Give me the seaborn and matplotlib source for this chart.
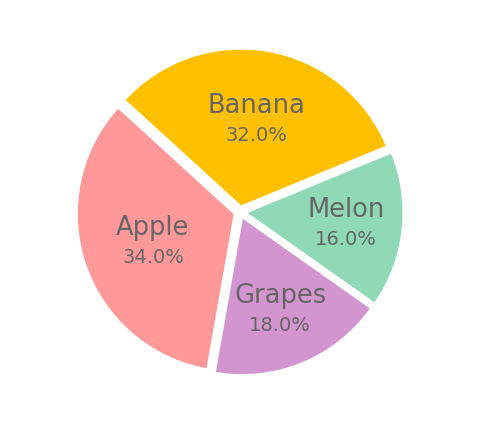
import numpy as np
import seaborn as sns
import matplotlib.pyplot as plt
from matplotlib.transforms import ScaledTranslation

labels = ["Apple", "Banana", "Melon", "Grapes"]
ratio = [34, 32, 16, 18]
colors = ["#ff9999", "#ffc000", "#8fd9b6", "#d395d0"]
explode = [0.035, 0.035, 0.035, 0.035]

sns.set_theme(style="white")
plt.rcParams["font.family"] = ["DejaVu Sans"]

fig = plt.figure(figsize=(4.82, 4.24), dpi=100)
ax = fig.add_axes([0.1046, 0.0528, 0.7867, 0.8943])

wedges, texts, autotexts = ax.pie(
    ratio, labels=labels, colors=colors, explode=explode,
    autopct="%.1f%%", startangle=260, counterclock=False,
    wedgeprops={"edgecolor": "white", "linewidth": 1.5},
)

# put each label pair at the wedge's centroid: name above, percentage below
up = ScaledTranslation(0, 4.7 / 72, fig.dpi_scale_trans)
down = ScaledTranslation(0, -4.7 / 72, fig.dpi_scale_trans)
for w, t, p in zip(wedges, texts, autotexts):
    half = np.deg2rad(abs(w.theta2 - w.theta1) / 2)
    mid = np.deg2rad((w.theta1 + w.theta2) / 2)
    d = w.r * (2 / 3) * np.sin(half) / half
    x = w.center[0] + d * np.cos(mid)
    y = w.center[1] + d * np.sin(mid)

    t.set_position((x, y))
    t.set_ha("center")
    t.set_va("baseline")
    t.set_fontsize(18.5)
    t.set_color("#666666")
    t.set_transform(ax.transData + up)

    p.set_position((x, y))
    p.set_ha("center")
    p.set_va("top")
    p.set_fontsize(14)
    p.set_color("#666666")
    p.set_transform(ax.transData + down)

ax.set_xlim(-1.2, 1.2)
ax.set_ylim(-1.2, 1.2)
ax.set_aspect("equal")

fig.savefig("out.png", dpi=100, facecolor="white")
